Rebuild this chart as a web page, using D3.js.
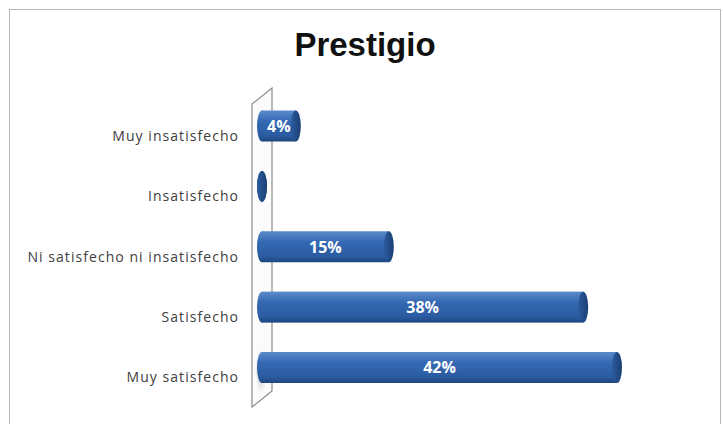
<!doctype html>
<html lang="es">
  <head>
    <meta charset="UTF-8" />
    <title>Prestigio</title>
    <script src="https://d3js.org/d3.v7.min.js"></script>
    <style>
      body {
        margin: 0;
        background: #fff;
      }
      .cat {
        font-family: 'Open Sans', sans-serif;
        font-size: 14px;
        letter-spacing: 1.05px;
        fill: #404040;
      }
      .val {
        font-family: 'Open Sans', sans-serif;
        font-weight: bold;
        font-size: 16px;
        fill: #fff;
      }
    </style>
  </head>
  <body>
    <div id="chart"></div>
    <script>
      // Data
      const categories = [
        'Muy insatisfecho',
        'Insatisfecho',
        'Ni satisfecho ni insatisfecho',
        'Satisfecho',
        'Muy satisfecho',
      ];
      const values = [4, 0, 15, 38, 42];
      const valueLabels = ['4%', '', '15%', '38%', '42%'];

      const W = 723;
      const H = 424;
      const barH = 31;
      const capR = 5;

      const svg = d3
        .select('#chart')
        .append('svg')
        .attr('width', W)
        .attr('height', H);

      // gradients for the cylinder look
      const defs = svg.append('defs');
      const body = defs
        .append('linearGradient')
        .attr('id', 'body')
        .attr('x1', 0)
        .attr('y1', 0)
        .attr('x2', 0)
        .attr('y2', 1);
      body.append('stop').attr('offset', '0%').attr('stop-color', '#5a8bcb');
      body.append('stop').attr('offset', '35%').attr('stop-color', '#3468b2');
      body.append('stop').attr('offset', '80%').attr('stop-color', '#2b5ca2');
      body.append('stop').attr('offset', '100%').attr('stop-color', '#1d467f');
      const cap = defs
        .append('linearGradient')
        .attr('id', 'cap')
        .attr('x1', 0)
        .attr('y1', 0)
        .attr('x2', 1)
        .attr('y2', 0);
      cap.append('stop').attr('offset', '0%').attr('stop-color', '#2b5ca0');
      cap.append('stop').attr('offset', '100%').attr('stop-color', '#1b3f73');
      const shadow = defs
        .append('radialGradient')
        .attr('id', 'shadow');
      shadow.append('stop').attr('offset', '0%').attr('stop-color', '#888').attr('stop-opacity', 0.8);
      shadow.append('stop').attr('offset', '100%').attr('stop-color', '#ccc').attr('stop-opacity', 0);

      // chart border
      svg
        .append('rect')
        .attr('x', 9.5)
        .attr('y', 9.5)
        .attr('width', 711)
        .attr('height', 430)
        .attr('fill', '#fff')
        .attr('stroke', '#b8b8b8');

      // title
      svg
        .append('text')
        .attr('x', 365)
        .attr('y', 56)
        .attr('text-anchor', 'middle')
        .style('font-family', 'Liberation Sans, Arial, sans-serif')
        .style('font-weight', 'bold')
        .style('font-size', '33px')
        .attr('fill', '#111')
        .text('Prestigio');

      // scales
      const x = d3.scaleLinear().domain([0, 42]).range([262, 617]);
      const y = d3.scalePoint().domain(categories).range([126, 367.5]);

      // 3D wall on the category axis
      const wallTop = 104;
      const wallBot = 407;
      const depthX = 20;
      const depthY = 16;
      const x0 = x(0) - 10;
      svg
        .append('path')
        .attr(
          'd',
          `M${x0},${wallTop} L${x0 + depthX},${wallTop - depthY} L${x0 + depthX},${wallBot - depthY} L${x0},${wallBot} Z`,
        )
        .attr('fill', '#fbfbfb')
        .attr('stroke', '#8c8c8c')
        .attr('stroke-width', 1.2);

      // soft shadow on the wall behind the last bar
      svg
        .append('ellipse')
        .attr('cx', x0 + 9)
        .attr('cy', y(categories[4]) + 4)
        .attr('rx', 6)
        .attr('ry', 22)
        .attr('fill', 'url(#shadow)');

      // category labels
      svg
        .selectAll('.cat')
        .data(categories)
        .enter()
        .append('text')
        .attr('class', 'cat')
        .attr('x', 239)
        .attr('y', (d) => y(d) + 10)
        .attr('dy', '0.35em')
        .attr('text-anchor', 'end')
        .text((d) => d);

      // bars as cylinders
      const bars = svg
        .selectAll('.bar')
        .data(values)
        .enter()
        .append('g')
        .attr('class', 'bar');

      bars
        .filter((d) => d > 0)
        .append('rect')
        .attr('x', x(0))
        .attr('y', (d) => y(categories[values.indexOf(d)]) - barH / 2)
        .attr('width', (d) => x(d) - x(0))
        .attr('height', barH)
        .attr('fill', 'url(#body)');

      // left caps
      bars
        .append('ellipse')
        .attr('cx', x(0))
        .attr('cy', (d, i) => y(categories[i]))
        .attr('rx', capR)
        .attr('ry', barH / 2)
        .attr('fill', (d) => (d > 0 ? 'url(#body)' : '#2a5a9c'));

      // right caps
      bars
        .append('ellipse')
        .attr('cx', (d) => x(d))
        .attr('cy', (d, i) => y(categories[i]))
        .attr('rx', capR)
        .attr('ry', barH / 2)
        .attr('fill', 'url(#cap)');

      // value labels
      bars
        .append('text')
        .attr('class', 'val')
        .attr('x', (d) => x(d / 2))
        .attr('y', (d, i) => y(categories[i]))
        .attr('dy', '0.36em')
        .attr('text-anchor', 'middle')
        .text((d, i) => valueLabels[i]);
    </script>
  </body>
</html>
